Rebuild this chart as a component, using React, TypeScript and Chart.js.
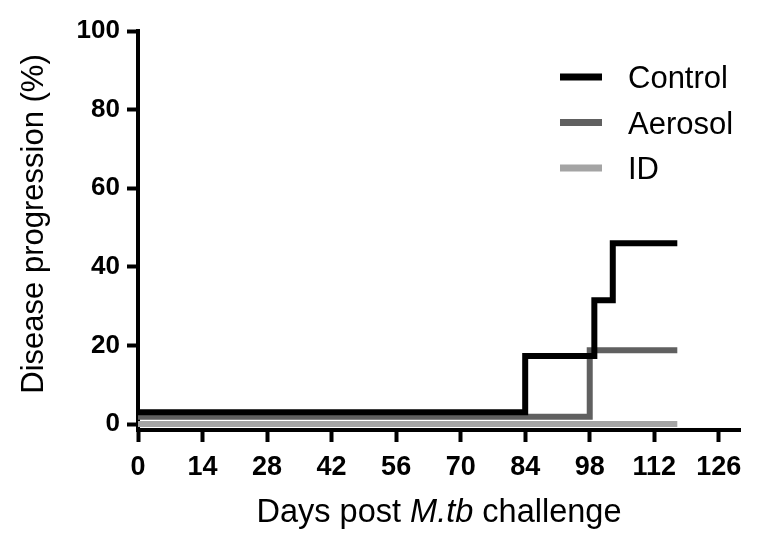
import React, { useEffect, useRef } from "react";
import { Chart, registerables } from "chart.js";

Chart.register(...registerables);

const seriesNames = ["Control", "Aerosol", "ID"];
const seriesColors = ["#000000", "#606060", "#a4a4a4"];

const controlDays = [0, 84, 99, 103, 117];
const controlPct = [3, 17.3, 31.5, 46, 46];
const aerosolDays = [0, 98, 117];
const aerosolPct = [1.9, 18.8, 18.8];
const idDays = [0, 117];
const idPct = [0, 0];

const xTicks = [0, 14, 28, 42, 56, 70, 84, 98, 112, 126];
const yTicks = [0, 20, 40, 60, 80, 100];

const yTitle = "Disease progression (%)";
const xTitleParts = [
  { text: "Days post ", italic: false },
  { text: "M.tb", italic: true },
  { text: " challenge", italic: false },
];

const FONT = "'Liberation Sans', Arial, Helvetica, sans-serif";

const toPoints = (xs: number[], ys: number[]) => xs.map((x, i) => ({ x, y: ys[i] }));

const titlesPlugin = {
  id: "customTitles",
  afterDraw(chart: any) {
    const { ctx, chartArea } = chart;
    ctx.save();
    ctx.fillStyle = "#000";
    // x title with italic part
    ctx.textBaseline = "alphabetic";
    const xSize = 32.5;
    const parts = xTitleParts.map((p) => {
      ctx.font = `${p.italic ? "italic " : ""}${xSize}px ${FONT}`;
      return { ...p, w: ctx.measureText(p.text).width };
    });
    const total = parts.reduce((s, p) => s + p.w, 0);
    let x = (chartArea.left + chartArea.right) / 2 - total / 2;
    const y = chartArea.bottom + 92;
    ctx.textAlign = "left";
    for (const p of parts) {
      ctx.font = `${p.italic ? "italic " : ""}${xSize}px ${FONT}`;
      ctx.fillText(p.text, x, y);
      x += p.w;
    }
    // y title
    ctx.save();
    ctx.translate(43, 224);
    ctx.rotate(-Math.PI / 2);
    ctx.textAlign = "center";
    ctx.textBaseline = "alphabetic";
    ctx.font = `31px ${FONT}`;
    ctx.fillText(yTitle, 0, 0);
    ctx.restore();

    // legend
    const lx1 = chartArea.right - 180;
    const lx2 = chartArea.right - 138;
    const tx = chartArea.right - 112;
    ctx.font = `31px ${FONT}`;
    ctx.textAlign = "left";
    ctx.textBaseline = "alphabetic";
    chart.data.datasets.forEach((ds: any, i: number) => {
      const ly = chartArea.top + 46 + i * 45.5;
      ctx.strokeStyle = ds.borderColor;
      ctx.lineWidth = 7;
      ctx.lineCap = "butt";
      ctx.beginPath();
      ctx.moveTo(lx1, ly);
      ctx.lineTo(lx2, ly);
      ctx.stroke();
      ctx.fillStyle = "#000";
      ctx.fillText(ds.label, tx, ly + 11);
    });
    ctx.restore();
  },
};

export default function App() {
  const ref = useRef<HTMLCanvasElement | null>(null);
  useEffect(() => {
    if (!ref.current) return;
    const seriesData = [
      toPoints(controlDays, controlPct),
      toPoints(aerosolDays, aerosolPct),
      toPoints(idDays, idPct),
    ];
    const chart = new Chart(ref.current, {
      type: "line",
      data: {
        datasets: seriesNames.map((name, i) => ({
          label: name,
          data: seriesData[i],
          borderColor: seriesColors[i],
          backgroundColor: seriesColors[i],
          borderWidth: 6,
          stepped: "before" as const,
          pointRadius: 0,
          fill: false,
          borderJoinStyle: "miter" as const,
          borderCapStyle: "butt" as const,
        })),
      },
      options: {
        animation: false,
        responsive: false,
        layout: { padding: { left: 0, top: 31, right: 22, bottom: 0 } },
        plugins: { legend: { display: false }, tooltip: { enabled: false } },
        scales: {
          x: {
            type: "linear",
            min: 0,
            max: 130.6,
            afterBuildTicks: (axis: any) => {
              axis.ticks = xTicks.map((v) => ({ value: v }));
            },
            afterFit: (scale: any) => {
              scale.height = 115;
            },
            border: { display: true, color: "#000", width: 4 },
            grid: {
              display: true,
              drawOnChartArea: false,
              drawTicks: true,
              tickLength: 12,
              tickWidth: 4,
              tickColor: "#000",
            },
            ticks: {
              color: "#000",
              padding: 9,
              maxRotation: 0,
              autoSkip: false,
              font: { family: FONT, size: 27, weight: "bold" },
            },
          },
          y: {
            type: "linear",
            min: -1.5,
            max: 100,
            afterBuildTicks: (axis: any) => {
              axis.ticks = yTicks.map((v) => ({ value: v }));
            },
            afterFit: (scale: any) => {
              scale.width = 138;
            },
            border: { display: true, color: "#000", width: 4 },
            grid: {
              display: true,
              drawOnChartArea: false,
              drawTicks: true,
              tickLength: 11,
              tickWidth: 4,
              tickColor: "#000",
            },
            ticks: {
              color: "#000",
              padding: 7,
              autoSkip: false,
              font: { family: FONT, size: 26, weight: "bold" },
            },
          },
        },
      },
      plugins: [titlesPlugin],
    });
    return () => chart.destroy();
  }, []);
  return (
    <div style={{ position: "absolute", left: 0, top: 0, width: 762, height: 545, background: "#fff" }}>
      <canvas ref={ref} width={762} height={545} style={{ display: "block" }} />
    </div>
  );
}
